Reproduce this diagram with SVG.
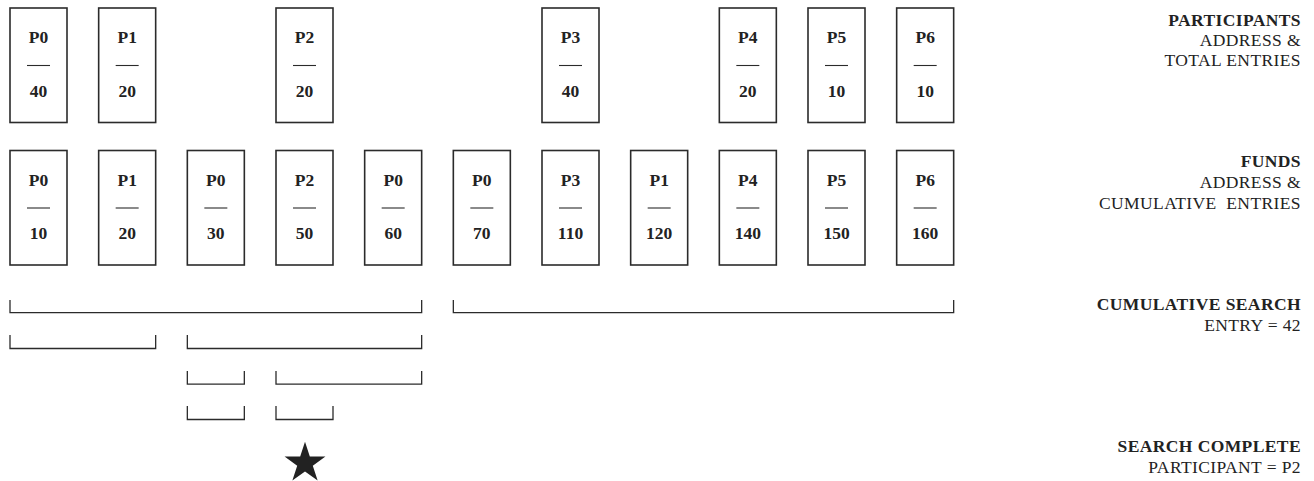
<svg xmlns="http://www.w3.org/2000/svg" width="1314" height="481" viewBox="0 0 1314 481">
<style>
.box{fill:#fff;stroke:#2b2b2b;stroke-width:1.6}
.dash{stroke:#2b2b2b;stroke-width:1.1}
.bl{font-family:"Liberation Serif","DejaVu Serif",serif;font-weight:bold;font-size:17.5px;fill:#222;text-anchor:middle}
.br{fill:none;stroke:#2b2b2b;stroke-width:1.3}
.lt{font-family:"Liberation Serif","DejaVu Serif",serif;font-size:17.5px;letter-spacing:0.4px;fill:#222;text-anchor:end;white-space:pre}
.lt .b{font-weight:bold}
</style>
<defs>
<g id="card">
<rect class="box" x="0" y="0" width="57" height="114.5"/>
<line class="dash" x1="17" y1="57.5" x2="40" y2="57.5"/>
</g>
</defs>
<rect width="1314" height="481" fill="#fff"/>
<g id="participants">
<g id="p-P0" transform="translate(10,8)"><use href="#card"/><text class="bl" x="28.5" y="35">P0</text><text class="bl" x="28.5" y="88.8">40</text></g>
<g id="p-P1" transform="translate(98.67,8)"><use href="#card"/><text class="bl" x="28.5" y="35">P1</text><text class="bl" x="28.5" y="88.8">20</text></g>
<g id="p-P2" transform="translate(276,8)"><use href="#card"/><text class="bl" x="28.5" y="35">P2</text><text class="bl" x="28.5" y="88.8">20</text></g>
<g id="p-P3" transform="translate(542,8)"><use href="#card"/><text class="bl" x="28.5" y="35">P3</text><text class="bl" x="28.5" y="88.8">40</text></g>
<g id="p-P4" transform="translate(719.33,8)"><use href="#card"/><text class="bl" x="28.5" y="35">P4</text><text class="bl" x="28.5" y="88.8">20</text></g>
<g id="p-P5" transform="translate(808,8)"><use href="#card"/><text class="bl" x="28.5" y="35">P5</text><text class="bl" x="28.5" y="88.8">10</text></g>
<g id="p-P6" transform="translate(896.67,8)"><use href="#card"/><text class="bl" x="28.5" y="35">P6</text><text class="bl" x="28.5" y="88.8">10</text></g>
</g>
<g id="funds">
<g id="f-10" transform="translate(10,150.5)"><use href="#card"/><text class="bl" x="28.5" y="35">P0</text><text class="bl" x="28.5" y="88.8">10</text></g>
<g id="f-20" transform="translate(98.67,150.5)"><use href="#card"/><text class="bl" x="28.5" y="35">P1</text><text class="bl" x="28.5" y="88.8">20</text></g>
<g id="f-30" transform="translate(187.33,150.5)"><use href="#card"/><text class="bl" x="28.5" y="35">P0</text><text class="bl" x="28.5" y="88.8">30</text></g>
<g id="f-50" transform="translate(276,150.5)"><use href="#card"/><text class="bl" x="28.5" y="35">P2</text><text class="bl" x="28.5" y="88.8">50</text></g>
<g id="f-60" transform="translate(364.67,150.5)"><use href="#card"/><text class="bl" x="28.5" y="35">P0</text><text class="bl" x="28.5" y="88.8">60</text></g>
<g id="f-70" transform="translate(453.33,150.5)"><use href="#card"/><text class="bl" x="28.5" y="35">P0</text><text class="bl" x="28.5" y="88.8">70</text></g>
<g id="f-110" transform="translate(542,150.5)"><use href="#card"/><text class="bl" x="28.5" y="35">P3</text><text class="bl" x="28.5" y="88.8">110</text></g>
<g id="f-120" transform="translate(630.67,150.5)"><use href="#card"/><text class="bl" x="28.5" y="35">P1</text><text class="bl" x="28.5" y="88.8">120</text></g>
<g id="f-140" transform="translate(719.33,150.5)"><use href="#card"/><text class="bl" x="28.5" y="35">P4</text><text class="bl" x="28.5" y="88.8">140</text></g>
<g id="f-150" transform="translate(808,150.5)"><use href="#card"/><text class="bl" x="28.5" y="35">P5</text><text class="bl" x="28.5" y="88.8">150</text></g>
<g id="f-160" transform="translate(896.67,150.5)"><use href="#card"/><text class="bl" x="28.5" y="35">P6</text><text class="bl" x="28.5" y="88.8">160</text></g>
</g>
<g id="connectors">
<path class="br" d="M10,300 V312.7 H421.67 V300"/>
<path class="br" d="M453.33,300 V312.7 H953.67 V300"/>
<path class="br" d="M10,335 V348.5 H155.67 V335"/>
<path class="br" d="M187.33,335 V348.5 H421.67 V335"/>
<path class="br" d="M187.33,371 V384.2 H244.33 V371"/>
<path class="br" d="M276,371 V384.2 H421.67 V371"/>
<path class="br" d="M187.33,406 V419.5 H244.33 V406"/>
<path class="br" d="M276,406 V419.5 H333 V406"/>
</g>
<g id="star">
<path fill="#222" d="M305,441.7 L309.82,456.57 L325.45,456.56 L312.8,465.73 L317.64,480.59 L305,471.4 L292.36,480.59 L297.2,465.73 L284.55,456.56 L300.18,456.57 Z"/>
</g>
<g id="labels">
<text class="lt" y="25.7"><tspan class="b" x="1301">PARTICIPANTS</tspan><tspan x="1301" y="45.9">ADDRESS &amp;</tspan><tspan x="1301" y="66.1">TOTAL ENTRIES</tspan></text>
<text class="lt" y="166.7"><tspan class="b" x="1301">FUNDS</tspan><tspan x="1301" y="188">ADDRESS &amp;</tspan><tspan x="1301" y="209.3">CUMULATIVE  ENTRIES</tspan></text>
<text class="lt" y="310"><tspan class="b" x="1301">CUMULATIVE SEARCH</tspan><tspan x="1301" y="331.4">ENTRY = 42</tspan></text>
<text class="lt" y="451.6"><tspan class="b" x="1301">SEARCH COMPLETE</tspan><tspan x="1301" y="472.8">PARTICIPANT = P2</tspan></text>
</g>
</svg>
